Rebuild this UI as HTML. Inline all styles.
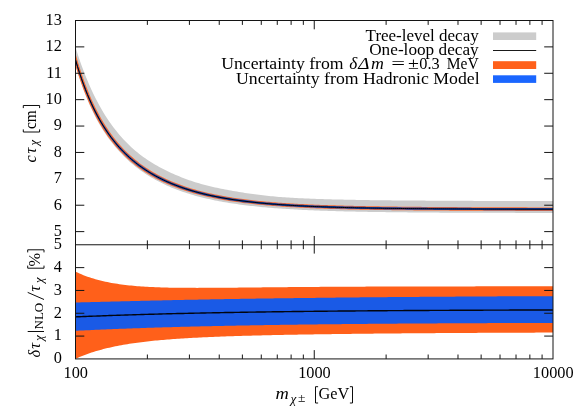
<!DOCTYPE html>
<html><head><meta charset="utf-8"><title>plot</title><style>html,body{margin:0;padding:0;background:#fff;overflow:hidden}svg{display:block;will-change:transform}</style></head><body>
<svg width="582" height="410" viewBox="0 0 582 410">
<rect width="582" height="410" fill="#fff"/>
<clipPath id="cu"><rect x="75.5" y="20.5" width="477.5" height="224.28"/></clipPath>
<clipPath id="cl"><rect x="75.5" y="244.78" width="477.5" height="114.14000000000001"/></clipPath>
<g clip-path="url(#cu)">
<path d="M71.50,33.29 L73.49,40.51 L75.49,47.24 L77.48,53.55 L79.48,59.49 L81.47,65.13 L83.46,70.50 L85.46,75.64 L87.45,80.54 L89.44,85.22 L91.44,89.68 L93.43,93.93 L95.43,97.98 L97.42,101.85 L99.41,105.54 L101.41,109.06 L103.40,112.43 L105.40,115.65 L107.39,118.73 L109.38,121.68 L111.38,124.51 L113.37,127.21 L115.36,129.80 L117.36,132.29 L119.35,134.67 L121.35,136.97 L123.34,139.17 L125.33,141.28 L127.33,143.31 L129.32,145.26 L131.31,147.13 L133.31,148.93 L135.30,150.65 L137.30,152.31 L139.29,153.91 L141.28,155.45 L143.28,156.93 L145.27,158.36 L147.27,159.73 L149.26,161.05 L151.25,162.32 L153.25,163.54 L155.24,164.72 L157.23,165.86 L159.23,166.96 L161.22,168.03 L163.22,169.07 L165.21,170.07 L167.20,171.05 L169.20,172.00 L171.19,172.93 L173.19,173.82 L175.18,174.69 L177.17,175.54 L179.17,176.36 L181.16,177.17 L183.15,177.95 L185.15,178.71 L187.14,179.45 L189.14,180.17 L191.13,180.86 L193.12,181.52 L195.12,182.16 L197.11,182.78 L199.10,183.37 L201.10,183.95 L203.09,184.51 L205.09,185.04 L207.08,185.56 L209.07,186.05 L211.07,186.53 L213.06,186.98 L215.06,187.42 L217.05,187.85 L219.04,188.26 L221.04,188.67 L223.03,189.06 L225.02,189.45 L227.02,189.83 L229.01,190.21 L231.01,190.57 L233.00,190.93 L234.99,191.27 L236.99,191.61 L238.98,191.94 L240.98,192.26 L242.97,192.57 L244.96,192.88 L246.96,193.17 L248.95,193.46 L250.94,193.75 L252.94,194.03 L254.93,194.30 L256.93,194.57 L258.92,194.82 L260.91,195.07 L262.91,195.31 L264.90,195.53 L266.90,195.75 L268.89,195.96 L270.88,196.16 L272.88,196.35 L274.87,196.54 L276.86,196.72 L278.86,196.89 L280.85,197.05 L282.85,197.21 L284.84,197.35 L286.83,197.49 L288.83,197.62 L290.82,197.75 L292.81,197.86 L294.81,197.98 L296.80,198.08 L298.80,198.18 L300.79,198.28 L302.78,198.37 L304.78,198.46 L306.77,198.54 L308.77,198.62 L310.76,198.70 L312.75,198.77 L314.75,198.84 L316.74,198.91 L318.73,198.98 L320.73,199.04 L322.72,199.10 L324.72,199.16 L326.71,199.22 L328.70,199.27 L330.70,199.32 L332.69,199.38 L334.69,199.43 L336.68,199.48 L338.67,199.53 L340.67,199.57 L342.66,199.62 L344.65,199.67 L346.65,199.71 L348.64,199.75 L350.64,199.79 L352.63,199.83 L354.62,199.87 L356.62,199.91 L358.61,199.94 L360.60,199.98 L362.60,200.01 L364.59,200.04 L366.59,200.07 L368.58,200.10 L370.57,200.13 L372.57,200.16 L374.56,200.19 L376.56,200.21 L378.55,200.24 L380.54,200.26 L382.54,200.28 L384.53,200.30 L386.52,200.33 L388.52,200.35 L390.51,200.37 L392.51,200.38 L394.50,200.40 L396.49,200.42 L398.49,200.44 L400.48,200.45 L402.48,200.47 L404.47,200.49 L406.46,200.50 L408.46,200.52 L410.45,200.53 L412.44,200.54 L414.44,200.56 L416.43,200.57 L418.43,200.58 L420.42,200.60 L422.41,200.61 L424.41,200.62 L426.40,200.64 L428.40,200.65 L430.39,200.66 L432.38,200.67 L434.38,200.68 L436.37,200.69 L438.36,200.70 L440.36,200.71 L442.35,200.73 L444.35,200.74 L446.34,200.75 L448.33,200.76 L450.33,200.77 L452.32,200.78 L454.31,200.79 L456.31,200.80 L458.30,200.80 L460.30,200.81 L462.29,200.82 L464.28,200.83 L466.28,200.84 L468.27,200.85 L470.27,200.86 L472.26,200.87 L474.25,200.88 L476.25,200.88 L478.24,200.89 L480.23,200.90 L482.23,200.91 L484.22,200.92 L486.22,200.92 L488.21,200.93 L490.20,200.94 L492.20,200.95 L494.19,200.95 L496.19,200.96 L498.18,200.97 L500.17,200.98 L502.17,200.98 L504.16,200.99 L506.15,201.00 L508.15,201.00 L510.14,201.01 L512.14,201.02 L514.13,201.02 L516.12,201.03 L518.12,201.03 L520.11,201.04 L522.10,201.05 L524.10,201.05 L526.09,201.06 L528.09,201.06 L530.08,201.07 L532.07,201.07 L534.07,201.08 L536.06,201.08 L538.06,201.09 L540.05,201.09 L542.04,201.10 L544.04,201.10 L546.03,201.11 L548.02,201.11 L550.02,201.11 L552.01,201.12 L554.01,201.12 L556.00,201.13 L556.00,212.93 L554.01,212.92 L552.01,212.92 L550.02,212.92 L548.02,212.92 L546.03,212.91 L544.04,212.91 L542.04,212.91 L540.05,212.91 L538.06,212.91 L536.06,212.90 L534.07,212.90 L532.07,212.90 L530.08,212.90 L528.09,212.89 L526.09,212.89 L524.10,212.89 L522.10,212.89 L520.11,212.88 L518.12,212.88 L516.12,212.88 L514.13,212.87 L512.14,212.87 L510.14,212.87 L508.15,212.86 L506.15,212.86 L504.16,212.86 L502.17,212.85 L500.17,212.85 L498.18,212.84 L496.19,212.84 L494.19,212.83 L492.20,212.83 L490.20,212.82 L488.21,212.82 L486.22,212.81 L484.22,212.81 L482.23,212.80 L480.23,212.80 L478.24,212.79 L476.25,212.78 L474.25,212.78 L472.26,212.77 L470.27,212.76 L468.27,212.76 L466.28,212.75 L464.28,212.74 L462.29,212.73 L460.30,212.72 L458.30,212.72 L456.31,212.71 L454.31,212.70 L452.32,212.69 L450.33,212.68 L448.33,212.67 L446.34,212.66 L444.35,212.65 L442.35,212.64 L440.36,212.63 L438.36,212.62 L436.37,212.60 L434.38,212.59 L432.38,212.58 L430.39,212.57 L428.40,212.55 L426.40,212.54 L424.41,212.52 L422.41,212.51 L420.42,212.49 L418.43,212.48 L416.43,212.46 L414.44,212.45 L412.44,212.43 L410.45,212.41 L408.46,212.39 L406.46,212.37 L404.47,212.36 L402.48,212.34 L400.48,212.31 L398.49,212.29 L396.49,212.27 L394.50,212.25 L392.51,212.23 L390.51,212.20 L388.52,212.18 L386.52,212.15 L384.53,212.12 L382.54,212.10 L380.54,212.07 L378.55,212.04 L376.56,212.01 L374.56,211.98 L372.57,211.95 L370.57,211.91 L368.58,211.88 L366.59,211.84 L364.59,211.81 L362.60,211.77 L360.60,211.73 L358.61,211.69 L356.62,211.65 L354.62,211.61 L352.63,211.57 L350.64,211.52 L348.64,211.48 L346.65,211.43 L344.65,211.38 L342.66,211.33 L340.67,211.27 L338.67,211.22 L336.68,211.16 L334.69,211.11 L332.69,211.05 L330.70,210.98 L328.70,210.92 L326.71,210.86 L324.72,210.79 L322.72,210.72 L320.73,210.65 L318.73,210.57 L316.74,210.49 L314.75,210.41 L312.75,210.33 L310.76,210.25 L308.77,210.16 L306.77,210.07 L304.78,209.98 L302.78,209.88 L300.79,209.78 L298.80,209.68 L296.80,209.57 L294.81,209.46 L292.81,209.35 L290.82,209.23 L288.83,209.11 L286.83,208.99 L284.84,208.86 L282.85,208.72 L280.85,208.59 L278.86,208.44 L276.86,208.30 L274.87,208.15 L272.88,207.99 L270.88,207.83 L268.89,207.66 L266.90,207.49 L264.90,207.31 L262.91,207.13 L260.91,206.94 L258.92,206.75 L256.93,206.54 L254.93,206.33 L252.94,206.12 L250.94,205.90 L248.95,205.67 L246.96,205.43 L244.96,205.19 L242.97,204.93 L240.98,204.67 L238.98,204.40 L236.99,204.12 L234.99,203.84 L233.00,203.54 L231.01,203.23 L229.01,202.92 L227.02,202.59 L225.02,202.25 L223.03,201.90 L221.04,201.54 L219.04,201.17 L217.05,200.79 L215.06,200.39 L213.06,199.98 L211.07,199.56 L209.07,199.12 L207.08,198.67 L205.09,198.20 L203.09,197.72 L201.10,197.22 L199.10,196.71 L197.11,196.18 L195.12,195.63 L193.12,195.06 L191.13,194.47 L189.14,193.87 L187.14,193.24 L185.15,192.59 L183.15,191.92 L181.16,191.23 L179.17,190.52 L177.17,189.78 L175.18,189.01 L173.19,188.22 L171.19,187.40 L169.20,186.56 L167.20,185.68 L165.21,184.77 L163.22,183.84 L161.22,182.87 L159.23,181.86 L157.23,180.82 L155.24,179.74 L153.25,178.62 L151.25,177.46 L149.26,176.26 L147.27,175.01 L145.27,173.72 L143.28,172.37 L141.28,170.98 L139.29,169.53 L137.30,168.03 L135.30,166.47 L133.31,164.84 L131.31,163.15 L129.32,161.39 L127.33,159.56 L125.33,157.65 L123.34,155.66 L121.35,153.58 L119.35,151.44 L117.36,149.26 L115.36,146.97 L113.37,144.58 L111.38,142.08 L109.38,139.45 L107.39,136.69 L105.40,133.80 L103.40,130.76 L101.41,127.56 L99.41,124.20 L97.42,120.65 L95.43,116.92 L93.43,112.99 L91.44,108.84 L89.44,104.45 L87.45,99.82 L85.46,94.91 L83.46,89.72 L81.47,84.23 L79.48,78.39 L77.48,72.21 L75.49,65.64 L73.49,58.57 L71.50,51.06Z" fill="#cccccc"/>
<path d="M71.50,38.45 L73.49,46.27 L75.49,53.62 L77.48,60.54 L79.48,67.06 L81.47,73.20 L83.46,78.99 L85.46,84.45 L87.45,89.62 L89.44,94.51 L91.44,99.13 L93.43,103.51 L95.43,107.67 L97.42,111.61 L99.41,115.35 L101.41,118.91 L103.40,122.30 L105.40,125.52 L107.39,128.59 L109.38,131.51 L111.38,134.30 L113.37,136.97 L115.36,139.52 L117.36,141.95 L119.35,144.28 L121.35,146.51 L123.34,148.64 L125.33,150.69 L127.33,152.65 L129.32,154.54 L131.31,156.34 L133.31,158.08 L135.30,159.75 L137.30,161.35 L139.29,162.89 L141.28,164.38 L143.28,165.81 L145.27,167.18 L147.27,168.51 L149.26,169.78 L151.25,171.01 L153.25,172.20 L155.24,173.35 L157.23,174.45 L159.23,175.52 L161.22,176.54 L163.22,177.54 L165.21,178.50 L167.20,179.42 L169.20,180.32 L171.19,181.18 L173.19,182.02 L175.18,182.82 L177.17,183.60 L179.17,184.36 L181.16,185.09 L183.15,185.79 L185.15,186.48 L187.14,187.14 L189.14,187.77 L191.13,188.39 L193.12,188.99 L195.12,189.57 L197.11,190.13 L199.10,190.67 L201.10,191.19 L203.09,191.70 L205.09,192.19 L207.08,192.67 L209.07,193.13 L211.07,193.57 L213.06,194.00 L215.06,194.42 L217.05,194.82 L219.04,195.22 L221.04,195.59 L223.03,195.96 L225.02,196.32 L227.02,196.66 L229.01,196.99 L231.01,197.32 L233.00,197.63 L234.99,197.93 L236.99,198.22 L238.98,198.51 L240.98,198.78 L242.97,199.05 L244.96,199.30 L246.96,199.55 L248.95,199.79 L250.94,200.03 L252.94,200.25 L254.93,200.47 L256.93,200.69 L258.92,200.89 L260.91,201.09 L262.91,201.28 L264.90,201.47 L266.90,201.65 L268.89,201.83 L270.88,202.00 L272.88,202.16 L274.87,202.32 L276.86,202.48 L278.86,202.63 L280.85,202.77 L282.85,202.91 L284.84,203.05 L286.83,203.18 L288.83,203.31 L290.82,203.43 L292.81,203.55 L294.81,203.67 L296.80,203.78 L298.80,203.89 L300.79,204.00 L302.78,204.10 L304.78,204.20 L306.77,204.29 L308.77,204.39 L310.76,204.48 L312.75,204.57 L314.75,204.65 L316.74,204.73 L318.73,204.81 L320.73,204.89 L322.72,204.97 L324.72,205.04 L326.71,205.11 L328.70,205.18 L330.70,205.24 L332.69,205.31 L334.69,205.37 L336.68,205.43 L338.67,205.49 L340.67,205.55 L342.66,205.60 L344.65,205.66 L346.65,205.71 L348.64,205.76 L350.64,205.81 L352.63,205.85 L354.62,205.90 L356.62,205.95 L358.61,205.99 L360.60,206.03 L362.60,206.07 L364.59,206.11 L366.59,206.15 L368.58,206.19 L370.57,206.22 L372.57,206.26 L374.56,206.29 L376.56,206.33 L378.55,206.36 L380.54,206.39 L382.54,206.42 L384.53,206.45 L386.52,206.48 L388.52,206.51 L390.51,206.54 L392.51,206.56 L394.50,206.59 L396.49,206.61 L398.49,206.64 L400.48,206.66 L402.48,206.68 L404.47,206.71 L406.46,206.73 L408.46,206.75 L410.45,206.77 L412.44,206.79 L414.44,206.81 L416.43,206.83 L418.43,206.85 L420.42,206.86 L422.41,206.88 L424.41,206.90 L426.40,206.91 L428.40,206.93 L430.39,206.95 L432.38,206.96 L434.38,206.98 L436.37,206.99 L438.36,207.00 L440.36,207.02 L442.35,207.03 L444.35,207.04 L446.34,207.06 L448.33,207.07 L450.33,207.08 L452.32,207.09 L454.31,207.10 L456.31,207.12 L458.30,207.13 L460.30,207.14 L462.29,207.15 L464.28,207.16 L466.28,207.17 L468.27,207.18 L470.27,207.19 L472.26,207.19 L474.25,207.20 L476.25,207.21 L478.24,207.22 L480.23,207.23 L482.23,207.24 L484.22,207.24 L486.22,207.25 L488.21,207.26 L490.20,207.27 L492.20,207.27 L494.19,207.28 L496.19,207.29 L498.18,207.29 L500.17,207.30 L502.17,207.31 L504.16,207.31 L506.15,207.32 L508.15,207.33 L510.14,207.33 L512.14,207.34 L514.13,207.34 L516.12,207.35 L518.12,207.35 L520.11,207.36 L522.10,207.36 L524.10,207.37 L526.09,207.37 L528.09,207.38 L530.08,207.38 L532.07,207.39 L534.07,207.39 L536.06,207.39 L538.06,207.40 L540.05,207.40 L542.04,207.41 L544.04,207.41 L546.03,207.41 L548.02,207.42 L550.02,207.42 L552.01,207.42 L554.01,207.43 L556.00,207.43 L556.00,210.95 L554.01,210.95 L552.01,210.95 L550.02,210.94 L548.02,210.94 L546.03,210.94 L544.04,210.93 L542.04,210.93 L540.05,210.93 L538.06,210.92 L536.06,210.92 L534.07,210.92 L532.07,210.91 L530.08,210.91 L528.09,210.90 L526.09,210.90 L524.10,210.90 L522.10,210.89 L520.11,210.89 L518.12,210.88 L516.12,210.88 L514.13,210.87 L512.14,210.87 L510.14,210.86 L508.15,210.86 L506.15,210.85 L504.16,210.85 L502.17,210.84 L500.17,210.84 L498.18,210.83 L496.19,210.82 L494.19,210.82 L492.20,210.81 L490.20,210.81 L488.21,210.80 L486.22,210.79 L484.22,210.78 L482.23,210.78 L480.23,210.77 L478.24,210.76 L476.25,210.76 L474.25,210.75 L472.26,210.74 L470.27,210.73 L468.27,210.72 L466.28,210.71 L464.28,210.70 L462.29,210.70 L460.30,210.69 L458.30,210.68 L456.31,210.67 L454.31,210.66 L452.32,210.65 L450.33,210.63 L448.33,210.62 L446.34,210.61 L444.35,210.60 L442.35,210.59 L440.36,210.58 L438.36,210.56 L436.37,210.55 L434.38,210.54 L432.38,210.52 L430.39,210.51 L428.40,210.49 L426.40,210.48 L424.41,210.46 L422.41,210.45 L420.42,210.43 L418.43,210.41 L416.43,210.40 L414.44,210.38 L412.44,210.36 L410.45,210.34 L408.46,210.32 L406.46,210.30 L404.47,210.28 L402.48,210.26 L400.48,210.24 L398.49,210.22 L396.49,210.19 L394.50,210.17 L392.51,210.15 L390.51,210.12 L388.52,210.09 L386.52,210.07 L384.53,210.04 L382.54,210.01 L380.54,209.98 L378.55,209.95 L376.56,209.92 L374.56,209.89 L372.57,209.86 L370.57,209.82 L368.58,209.79 L366.59,209.75 L364.59,209.72 L362.60,209.68 L360.60,209.64 L358.61,209.60 L356.62,209.56 L354.62,209.51 L352.63,209.47 L350.64,209.42 L348.64,209.38 L346.65,209.33 L344.65,209.28 L342.66,209.23 L340.67,209.17 L338.67,209.12 L336.68,209.06 L334.69,209.00 L332.69,208.94 L330.70,208.88 L328.70,208.82 L326.71,208.75 L324.72,208.68 L322.72,208.61 L320.73,208.54 L318.73,208.46 L316.74,208.39 L314.75,208.31 L312.75,208.23 L310.76,208.14 L308.77,208.05 L306.77,207.96 L304.78,207.87 L302.78,207.77 L300.79,207.67 L298.80,207.57 L296.80,207.47 L294.81,207.36 L292.81,207.25 L290.82,207.13 L288.83,207.01 L286.83,206.89 L284.84,206.76 L282.85,206.63 L280.85,206.49 L278.86,206.35 L276.86,206.20 L274.87,206.05 L272.88,205.90 L270.88,205.74 L268.89,205.58 L266.90,205.41 L264.90,205.23 L262.91,205.05 L260.91,204.86 L258.92,204.67 L256.93,204.47 L254.93,204.26 L252.94,204.05 L250.94,203.83 L248.95,203.60 L246.96,203.37 L244.96,203.13 L242.97,202.88 L240.98,202.62 L238.98,202.36 L236.99,202.08 L234.99,201.80 L233.00,201.50 L231.01,201.20 L229.01,200.89 L227.02,200.57 L225.02,200.24 L223.03,199.89 L221.04,199.54 L219.04,199.17 L217.05,198.79 L215.06,198.40 L213.06,198.00 L211.07,197.58 L209.07,197.15 L207.08,196.71 L205.09,196.25 L203.09,195.77 L201.10,195.28 L199.10,194.78 L197.11,194.26 L195.12,193.72 L193.12,193.16 L191.13,192.58 L189.14,191.99 L187.14,191.37 L185.15,190.74 L183.15,190.08 L181.16,189.40 L179.17,188.70 L177.17,187.97 L175.18,187.22 L173.19,186.45 L171.19,185.64 L169.20,184.81 L167.20,183.95 L165.21,183.07 L163.22,182.15 L161.22,181.20 L159.23,180.21 L157.23,179.19 L155.24,178.13 L153.25,177.04 L151.25,175.90 L149.26,174.73 L147.27,173.51 L145.27,172.24 L143.28,170.93 L141.28,169.57 L139.29,168.16 L137.30,166.69 L135.30,165.16 L133.31,163.57 L131.31,161.92 L129.32,160.21 L127.33,158.42 L125.33,156.56 L123.34,154.62 L121.35,152.59 L119.35,150.48 L117.36,148.28 L115.36,145.98 L113.37,143.57 L111.38,141.06 L109.38,138.43 L107.39,135.67 L105.40,132.78 L103.40,129.75 L101.41,126.56 L99.41,123.22 L97.42,119.71 L95.43,116.01 L93.43,112.12 L91.44,108.02 L89.44,103.69 L87.45,99.12 L85.46,94.30 L83.46,89.20 L81.47,83.81 L79.48,78.09 L77.48,72.03 L75.49,65.61 L73.49,58.79 L71.50,51.54Z" fill="#f96a2e"/>
<path d="M71.50,43.04 L73.49,50.61 L75.49,57.72 L77.48,64.42 L79.48,70.73 L81.47,76.69 L83.46,82.30 L85.46,87.61 L87.45,92.63 L89.44,97.38 L91.44,101.87 L93.43,106.14 L95.43,110.18 L97.42,114.02 L99.41,117.66 L101.41,121.13 L103.40,124.43 L105.40,127.58 L107.39,130.57 L109.38,133.43 L111.38,136.15 L113.37,138.76 L115.36,141.25 L117.36,143.63 L119.35,145.91 L121.35,148.09 L123.34,150.18 L125.33,152.19 L127.33,154.11 L129.32,155.96 L131.31,157.73 L133.31,159.43 L135.30,161.07 L137.30,162.64 L139.29,164.16 L141.28,165.62 L143.28,167.02 L145.27,168.37 L147.27,169.68 L149.26,170.93 L151.25,172.14 L153.25,173.31 L155.24,174.44 L157.23,175.53 L159.23,176.58 L161.22,177.59 L163.22,178.57 L165.21,179.52 L167.20,180.43 L169.20,181.31 L171.19,182.17 L173.19,182.99 L175.18,183.79 L177.17,184.56 L179.17,185.30 L181.16,186.02 L183.15,186.72 L185.15,187.40 L187.14,188.05 L189.14,188.68 L191.13,189.29 L193.12,189.88 L195.12,190.45 L197.11,191.01 L199.10,191.54 L201.10,192.06 L203.09,192.57 L205.09,193.05 L207.08,193.52 L209.07,193.98 L211.07,194.42 L213.06,194.85 L215.06,195.26 L217.05,195.66 L219.04,196.05 L221.04,196.42 L223.03,196.79 L225.02,197.14 L227.02,197.48 L229.01,197.81 L231.01,198.13 L233.00,198.44 L234.99,198.74 L236.99,199.03 L238.98,199.31 L240.98,199.58 L242.97,199.85 L244.96,200.10 L246.96,200.35 L248.95,200.59 L250.94,200.82 L252.94,201.05 L254.93,201.26 L256.93,201.47 L258.92,201.68 L260.91,201.88 L262.91,202.07 L264.90,202.25 L266.90,202.43 L268.89,202.61 L270.88,202.78 L272.88,202.94 L274.87,203.10 L276.86,203.25 L278.86,203.40 L280.85,203.54 L282.85,203.68 L284.84,203.82 L286.83,203.95 L288.83,204.07 L290.82,204.20 L292.81,204.32 L294.81,204.43 L296.80,204.54 L298.80,204.65 L300.79,204.76 L302.78,204.86 L304.78,204.96 L306.77,205.05 L308.77,205.14 L310.76,205.23 L312.75,205.32 L314.75,205.40 L316.74,205.48 L318.73,205.56 L320.73,205.64 L322.72,205.71 L324.72,205.79 L326.71,205.86 L328.70,205.92 L330.70,205.99 L332.69,206.05 L334.69,206.11 L336.68,206.17 L338.67,206.23 L340.67,206.29 L342.66,206.34 L344.65,206.39 L346.65,206.44 L348.64,206.49 L350.64,206.54 L352.63,206.59 L354.62,206.63 L356.62,206.68 L358.61,206.72 L360.60,206.76 L362.60,206.80 L364.59,206.84 L366.59,206.88 L368.58,206.91 L370.57,206.95 L372.57,206.98 L374.56,207.02 L376.56,207.05 L378.55,207.08 L380.54,207.11 L382.54,207.14 L384.53,207.17 L386.52,207.20 L388.52,207.23 L390.51,207.25 L392.51,207.28 L394.50,207.30 L396.49,207.33 L398.49,207.35 L400.48,207.37 L402.48,207.40 L404.47,207.42 L406.46,207.44 L408.46,207.46 L410.45,207.48 L412.44,207.50 L414.44,207.52 L416.43,207.53 L418.43,207.55 L420.42,207.57 L422.41,207.58 L424.41,207.60 L426.40,207.62 L428.40,207.63 L430.39,207.65 L432.38,207.66 L434.38,207.68 L436.37,207.69 L438.36,207.70 L440.36,207.72 L442.35,207.73 L444.35,207.74 L446.34,207.75 L448.33,207.76 L450.33,207.77 L452.32,207.79 L454.31,207.80 L456.31,207.81 L458.30,207.82 L460.30,207.83 L462.29,207.84 L464.28,207.85 L466.28,207.85 L468.27,207.86 L470.27,207.87 L472.26,207.88 L474.25,207.89 L476.25,207.90 L478.24,207.90 L480.23,207.91 L482.23,207.92 L484.22,207.93 L486.22,207.93 L488.21,207.94 L490.20,207.95 L492.20,207.95 L494.19,207.96 L496.19,207.96 L498.18,207.97 L500.17,207.98 L502.17,207.98 L504.16,207.99 L506.15,207.99 L508.15,208.00 L510.14,208.00 L512.14,208.01 L514.13,208.01 L516.12,208.02 L518.12,208.02 L520.11,208.03 L522.10,208.03 L524.10,208.04 L526.09,208.04 L528.09,208.05 L530.08,208.05 L532.07,208.06 L534.07,208.06 L536.06,208.06 L538.06,208.07 L540.05,208.07 L542.04,208.07 L544.04,208.08 L546.03,208.08 L548.02,208.08 L550.02,208.09 L552.01,208.09 L554.01,208.09 L556.00,208.10 L556.00,210.30 L554.01,210.30 L552.01,210.29 L550.02,210.29 L548.02,210.29 L546.03,210.28 L544.04,210.28 L542.04,210.28 L540.05,210.27 L538.06,210.27 L536.06,210.27 L534.07,210.26 L532.07,210.26 L530.08,210.25 L528.09,210.25 L526.09,210.25 L524.10,210.24 L522.10,210.24 L520.11,210.23 L518.12,210.23 L516.12,210.22 L514.13,210.22 L512.14,210.21 L510.14,210.21 L508.15,210.20 L506.15,210.20 L504.16,210.19 L502.17,210.19 L500.17,210.18 L498.18,210.17 L496.19,210.17 L494.19,210.16 L492.20,210.16 L490.20,210.15 L488.21,210.14 L486.22,210.14 L484.22,210.13 L482.23,210.12 L480.23,210.11 L478.24,210.11 L476.25,210.10 L474.25,210.09 L472.26,210.08 L470.27,210.07 L468.27,210.07 L466.28,210.06 L464.28,210.05 L462.29,210.04 L460.30,210.03 L458.30,210.02 L456.31,210.01 L454.31,210.00 L452.32,209.99 L450.33,209.98 L448.33,209.97 L446.34,209.95 L444.35,209.94 L442.35,209.93 L440.36,209.92 L438.36,209.90 L436.37,209.89 L434.38,209.88 L432.38,209.86 L430.39,209.85 L428.40,209.83 L426.40,209.82 L424.41,209.80 L422.41,209.79 L420.42,209.77 L418.43,209.75 L416.43,209.74 L414.44,209.72 L412.44,209.70 L410.45,209.68 L408.46,209.66 L406.46,209.64 L404.47,209.62 L402.48,209.60 L400.48,209.58 L398.49,209.55 L396.49,209.53 L394.50,209.51 L392.51,209.48 L390.51,209.46 L388.52,209.43 L386.52,209.40 L384.53,209.38 L382.54,209.35 L380.54,209.32 L378.55,209.29 L376.56,209.26 L374.56,209.22 L372.57,209.19 L370.57,209.16 L368.58,209.12 L366.59,209.08 L364.59,209.05 L362.60,209.01 L360.60,208.97 L358.61,208.93 L356.62,208.89 L354.62,208.84 L352.63,208.80 L350.64,208.75 L348.64,208.70 L346.65,208.66 L344.65,208.60 L342.66,208.55 L340.67,208.50 L338.67,208.44 L336.68,208.39 L334.69,208.33 L332.69,208.27 L330.70,208.20 L328.70,208.14 L326.71,208.07 L324.72,208.00 L322.72,207.93 L320.73,207.86 L318.73,207.78 L316.74,207.71 L314.75,207.63 L312.75,207.54 L310.76,207.46 L308.77,207.37 L306.77,207.28 L304.78,207.18 L302.78,207.09 L300.79,206.99 L298.80,206.88 L296.80,206.78 L294.81,206.67 L292.81,206.55 L290.82,206.43 L288.83,206.31 L286.83,206.19 L284.84,206.06 L282.85,205.93 L280.85,205.79 L278.86,205.65 L276.86,205.50 L274.87,205.35 L272.88,205.19 L270.88,205.03 L268.89,204.87 L266.90,204.69 L264.90,204.52 L262.91,204.33 L260.91,204.14 L258.92,203.95 L256.93,203.75 L254.93,203.54 L252.94,203.33 L250.94,203.10 L248.95,202.87 L246.96,202.64 L244.96,202.39 L242.97,202.14 L240.98,201.88 L238.98,201.61 L236.99,201.34 L234.99,201.05 L233.00,200.75 L231.01,200.45 L229.01,200.13 L227.02,199.81 L225.02,199.47 L223.03,199.12 L221.04,198.76 L219.04,198.39 L217.05,198.01 L215.06,197.62 L213.06,197.21 L211.07,196.79 L209.07,196.35 L207.08,195.90 L205.09,195.44 L203.09,194.96 L201.10,194.46 L199.10,193.95 L197.11,193.42 L195.12,192.87 L193.12,192.31 L191.13,191.72 L189.14,191.12 L187.14,190.50 L185.15,189.85 L183.15,189.19 L181.16,188.50 L179.17,187.79 L177.17,187.05 L175.18,186.29 L173.19,185.50 L171.19,184.69 L169.20,183.85 L167.20,182.98 L165.21,182.08 L163.22,181.14 L161.22,180.18 L159.23,179.17 L157.23,178.14 L155.24,177.07 L153.25,175.95 L151.25,174.80 L149.26,173.60 L147.27,172.36 L145.27,171.08 L143.28,169.74 L141.28,168.36 L139.29,166.92 L137.30,165.42 L135.30,163.87 L133.31,162.25 L131.31,160.57 L129.32,158.82 L127.33,157.00 L125.33,155.10 L123.34,153.12 L121.35,151.06 L119.35,148.90 L117.36,146.66 L115.36,144.31 L113.37,141.85 L111.38,139.28 L109.38,136.59 L107.39,133.77 L105.40,130.81 L103.40,127.71 L101.41,124.45 L99.41,121.03 L97.42,117.43 L95.43,113.64 L93.43,109.66 L91.44,105.45 L89.44,101.01 L87.45,96.33 L85.46,91.38 L83.46,86.14 L81.47,80.59 L79.48,74.72 L77.48,68.49 L75.49,61.88 L73.49,54.86 L71.50,47.40Z" fill="#1946b4"/>
<path d="M71.50,45.26 L73.49,52.77 L75.49,59.84 L77.48,66.49 L79.48,72.76 L81.47,78.67 L83.46,84.25 L85.46,89.52 L87.45,94.50 L89.44,99.22 L91.44,103.68 L93.43,107.91 L95.43,111.93 L97.42,115.74 L99.41,119.36 L101.41,122.81 L103.40,126.08 L105.40,129.21 L107.39,132.18 L109.38,135.02 L111.38,137.73 L113.37,140.31 L115.36,142.79 L117.36,145.15 L119.35,147.41 L121.35,149.58 L123.34,151.66 L125.33,153.65 L127.33,155.56 L129.32,157.40 L131.31,159.16 L133.31,160.85 L135.30,162.47 L137.30,164.04 L139.29,165.54 L141.28,166.99 L143.28,168.39 L145.27,169.73 L147.27,171.03 L149.26,172.27 L151.25,173.48 L153.25,174.64 L155.24,175.76 L157.23,176.84 L159.23,177.88 L161.22,178.89 L163.22,179.86 L165.21,180.80 L167.20,181.71 L169.20,182.58 L171.19,183.43 L173.19,184.25 L175.18,185.04 L177.17,185.81 L179.17,186.55 L181.16,187.27 L183.15,187.96 L185.15,188.63 L187.14,189.28 L189.14,189.91 L191.13,190.51 L193.12,191.10 L195.12,191.67 L197.11,192.22 L199.10,192.75 L201.10,193.27 L203.09,193.77 L205.09,194.25 L207.08,194.72 L209.07,195.17 L211.07,195.61 L213.06,196.03 L215.06,196.44 L217.05,196.84 L219.04,197.23 L221.04,197.60 L223.03,197.96 L225.02,198.31 L227.02,198.65 L229.01,198.98 L231.01,199.30 L233.00,199.60 L234.99,199.90 L236.99,200.19 L238.98,200.47 L240.98,200.74 L242.97,201.00 L244.96,201.26 L246.96,201.50 L248.95,201.74 L250.94,201.97 L252.94,202.19 L254.93,202.41 L256.93,202.62 L258.92,202.82 L260.91,203.02 L262.91,203.21 L264.90,203.39 L266.90,203.57 L268.89,203.75 L270.88,203.91 L272.88,204.08 L274.87,204.23 L276.86,204.38 L278.86,204.53 L280.85,204.68 L282.85,204.81 L284.84,204.95 L286.83,205.08 L288.83,205.20 L290.82,205.33 L292.81,205.44 L294.81,205.56 L296.80,205.67 L298.80,205.78 L300.79,205.88 L302.78,205.98 L304.78,206.08 L306.77,206.17 L308.77,206.27 L310.76,206.36 L312.75,206.44 L314.75,206.53 L316.74,206.61 L318.73,206.69 L320.73,206.76 L322.72,206.84 L324.72,206.91 L326.71,206.98 L328.70,207.04 L330.70,207.11 L332.69,207.17 L334.69,207.23 L336.68,207.29 L338.67,207.35 L340.67,207.41 L342.66,207.46 L344.65,207.51 L346.65,207.56 L348.64,207.61 L350.64,207.66 L352.63,207.71 L354.62,207.75 L356.62,207.80 L358.61,207.84 L360.60,207.88 L362.60,207.92 L364.59,207.96 L366.59,208.00 L368.58,208.03 L370.57,208.07 L372.57,208.10 L374.56,208.14 L376.56,208.17 L378.55,208.20 L380.54,208.23 L382.54,208.26 L384.53,208.29 L386.52,208.32 L388.52,208.35 L390.51,208.37 L392.51,208.40 L394.50,208.42 L396.49,208.45 L398.49,208.47 L400.48,208.49 L402.48,208.52 L404.47,208.54 L406.46,208.56 L408.46,208.58 L410.45,208.60 L412.44,208.62 L414.44,208.64 L416.43,208.66 L418.43,208.67 L420.42,208.69 L422.41,208.71 L424.41,208.72 L426.40,208.74 L428.40,208.75 L430.39,208.77 L432.38,208.78 L434.38,208.80 L436.37,208.81 L438.36,208.83 L440.36,208.84 L442.35,208.85 L444.35,208.86 L446.34,208.88 L448.33,208.89 L450.33,208.90 L452.32,208.91 L454.31,208.92 L456.31,208.93 L458.30,208.94 L460.30,208.95 L462.29,208.96 L464.28,208.97 L466.28,208.98 L468.27,208.99 L470.27,209.00 L472.26,209.01 L474.25,209.01 L476.25,209.02 L478.24,209.03 L480.23,209.04 L482.23,209.05 L484.22,209.05 L486.22,209.06 L488.21,209.07 L490.20,209.07 L492.20,209.08 L494.19,209.09 L496.19,209.09 L498.18,209.10 L500.17,209.11 L502.17,209.11 L504.16,209.12 L506.15,209.12 L508.15,209.13 L510.14,209.13 L512.14,209.14 L514.13,209.14 L516.12,209.15 L518.12,209.15 L520.11,209.16 L522.10,209.16 L524.10,209.17 L526.09,209.17 L528.09,209.18 L530.08,209.18 L532.07,209.18 L534.07,209.19 L536.06,209.19 L538.06,209.20 L540.05,209.20 L542.04,209.20 L544.04,209.21 L546.03,209.21 L548.02,209.21 L550.02,209.22 L552.01,209.22 L554.01,209.22 L556.00,209.23" fill="none" stroke="#000" stroke-width="1.0"/>
</g>
<g clip-path="url(#cl)">
<path d="M71.50,269.62 L73.49,270.66 L75.49,271.66 L77.48,272.60 L79.48,273.50 L81.47,274.35 L83.46,275.15 L85.46,275.92 L87.45,276.65 L89.44,277.34 L91.44,277.99 L93.43,278.61 L95.43,279.19 L97.42,279.75 L99.41,280.27 L101.41,280.77 L103.40,281.24 L105.40,281.69 L107.39,282.11 L109.38,282.50 L111.38,282.88 L113.37,283.23 L115.36,283.56 L117.36,283.87 L119.35,284.17 L121.35,284.45 L123.34,284.71 L125.33,284.95 L127.33,285.19 L129.32,285.40 L131.31,285.60 L133.31,285.79 L135.30,285.97 L137.30,286.14 L139.29,286.29 L141.28,286.44 L143.28,286.57 L145.27,286.70 L147.27,286.81 L149.26,286.92 L151.25,287.02 L153.25,287.11 L155.24,287.20 L157.23,287.28 L159.23,287.35 L161.22,287.42 L163.22,287.48 L165.21,287.53 L167.20,287.58 L169.20,287.63 L171.19,287.67 L173.19,287.70 L175.18,287.73 L177.17,287.76 L179.17,287.79 L181.16,287.81 L183.15,287.82 L185.15,287.84 L187.14,287.85 L189.14,287.86 L191.13,287.87 L193.12,287.87 L195.12,287.87 L197.11,287.88 L199.10,287.87 L201.10,287.87 L203.09,287.87 L205.09,287.86 L207.08,287.85 L209.07,287.84 L211.07,287.83 L213.06,287.82 L215.06,287.81 L217.05,287.80 L219.04,287.78 L221.04,287.77 L223.03,287.75 L225.02,287.73 L227.02,287.72 L229.01,287.70 L231.01,287.68 L233.00,287.66 L234.99,287.65 L236.99,287.63 L238.98,287.61 L240.98,287.59 L242.97,287.57 L244.96,287.55 L246.96,287.53 L248.95,287.51 L250.94,287.49 L252.94,287.47 L254.93,287.45 L256.93,287.43 L258.92,287.41 L260.91,287.39 L262.91,287.37 L264.90,287.35 L266.90,287.33 L268.89,287.31 L270.88,287.29 L272.88,287.27 L274.87,287.25 L276.86,287.23 L278.86,287.21 L280.85,287.19 L282.85,287.18 L284.84,287.16 L286.83,287.14 L288.83,287.12 L290.82,287.10 L292.81,287.09 L294.81,287.07 L296.80,287.05 L298.80,287.04 L300.79,287.02 L302.78,287.00 L304.78,286.99 L306.77,286.97 L308.77,286.96 L310.76,286.94 L312.75,286.93 L314.75,286.91 L316.74,286.90 L318.73,286.89 L320.73,286.87 L322.72,286.86 L324.72,286.85 L326.71,286.83 L328.70,286.82 L330.70,286.81 L332.69,286.80 L334.69,286.78 L336.68,286.77 L338.67,286.76 L340.67,286.75 L342.66,286.74 L344.65,286.73 L346.65,286.72 L348.64,286.71 L350.64,286.70 L352.63,286.69 L354.62,286.68 L356.62,286.67 L358.61,286.66 L360.60,286.65 L362.60,286.64 L364.59,286.63 L366.59,286.62 L368.58,286.62 L370.57,286.61 L372.57,286.60 L374.56,286.59 L376.56,286.58 L378.55,286.58 L380.54,286.57 L382.54,286.56 L384.53,286.56 L386.52,286.55 L388.52,286.54 L390.51,286.54 L392.51,286.53 L394.50,286.52 L396.49,286.52 L398.49,286.51 L400.48,286.51 L402.48,286.50 L404.47,286.50 L406.46,286.49 L408.46,286.49 L410.45,286.48 L412.44,286.48 L414.44,286.47 L416.43,286.47 L418.43,286.46 L420.42,286.46 L422.41,286.45 L424.41,286.45 L426.40,286.45 L428.40,286.44 L430.39,286.44 L432.38,286.44 L434.38,286.43 L436.37,286.43 L438.36,286.42 L440.36,286.42 L442.35,286.42 L444.35,286.41 L446.34,286.41 L448.33,286.41 L450.33,286.41 L452.32,286.40 L454.31,286.40 L456.31,286.40 L458.30,286.40 L460.30,286.39 L462.29,286.39 L464.28,286.39 L466.28,286.39 L468.27,286.38 L470.27,286.38 L472.26,286.38 L474.25,286.38 L476.25,286.37 L478.24,286.37 L480.23,286.37 L482.23,286.37 L484.22,286.37 L486.22,286.37 L488.21,286.36 L490.20,286.36 L492.20,286.36 L494.19,286.36 L496.19,286.36 L498.18,286.36 L500.17,286.35 L502.17,286.35 L504.16,286.35 L506.15,286.35 L508.15,286.35 L510.14,286.35 L512.14,286.35 L514.13,286.35 L516.12,286.34 L518.12,286.34 L520.11,286.34 L522.10,286.34 L524.10,286.34 L526.09,286.34 L528.09,286.34 L530.08,286.34 L532.07,286.34 L534.07,286.34 L536.06,286.33 L538.06,286.33 L540.05,286.33 L542.04,286.33 L544.04,286.33 L546.03,286.33 L548.02,286.33 L550.02,286.33 L552.01,286.33 L554.01,286.33 L556.00,286.33 L556.00,332.55 L554.01,332.56 L552.01,332.57 L550.02,332.57 L548.02,332.58 L546.03,332.59 L544.04,332.59 L542.04,332.60 L540.05,332.61 L538.06,332.61 L536.06,332.62 L534.07,332.63 L532.07,332.64 L530.08,332.64 L528.09,332.65 L526.09,332.66 L524.10,332.67 L522.10,332.67 L520.11,332.68 L518.12,332.69 L516.12,332.70 L514.13,332.71 L512.14,332.72 L510.14,332.72 L508.15,332.73 L506.15,332.74 L504.16,332.75 L502.17,332.76 L500.17,332.77 L498.18,332.78 L496.19,332.79 L494.19,332.79 L492.20,332.80 L490.20,332.81 L488.21,332.82 L486.22,332.83 L484.22,332.84 L482.23,332.85 L480.23,332.86 L478.24,332.87 L476.25,332.88 L474.25,332.89 L472.26,332.90 L470.27,332.91 L468.27,332.93 L466.28,332.94 L464.28,332.95 L462.29,332.96 L460.30,332.97 L458.30,332.98 L456.31,332.99 L454.31,333.01 L452.32,333.02 L450.33,333.03 L448.33,333.04 L446.34,333.05 L444.35,333.07 L442.35,333.08 L440.36,333.09 L438.36,333.10 L436.37,333.12 L434.38,333.13 L432.38,333.15 L430.39,333.16 L428.40,333.17 L426.40,333.19 L424.41,333.20 L422.41,333.22 L420.42,333.23 L418.43,333.24 L416.43,333.26 L414.44,333.27 L412.44,333.29 L410.45,333.31 L408.46,333.32 L406.46,333.34 L404.47,333.35 L402.48,333.37 L400.48,333.39 L398.49,333.40 L396.49,333.42 L394.50,333.44 L392.51,333.45 L390.51,333.47 L388.52,333.49 L386.52,333.51 L384.53,333.53 L382.54,333.54 L380.54,333.56 L378.55,333.58 L376.56,333.60 L374.56,333.62 L372.57,333.64 L370.57,333.66 L368.58,333.68 L366.59,333.70 L364.59,333.72 L362.60,333.74 L360.60,333.77 L358.61,333.79 L356.62,333.81 L354.62,333.83 L352.63,333.85 L350.64,333.88 L348.64,333.90 L346.65,333.92 L344.65,333.95 L342.66,333.97 L340.67,334.00 L338.67,334.02 L336.68,334.05 L334.69,334.07 L332.69,334.10 L330.70,334.13 L328.70,334.15 L326.71,334.18 L324.72,334.21 L322.72,334.24 L320.73,334.27 L318.73,334.29 L316.74,334.32 L314.75,334.35 L312.75,334.38 L310.76,334.41 L308.77,334.45 L306.77,334.48 L304.78,334.51 L302.78,334.54 L300.79,334.58 L298.80,334.61 L296.80,334.64 L294.81,334.68 L292.81,334.72 L290.82,334.75 L288.83,334.79 L286.83,334.83 L284.84,334.86 L282.85,334.90 L280.85,334.94 L278.86,334.98 L276.86,335.02 L274.87,335.07 L272.88,335.11 L270.88,335.15 L268.89,335.20 L266.90,335.24 L264.90,335.29 L262.91,335.33 L260.91,335.38 L258.92,335.43 L256.93,335.48 L254.93,335.53 L252.94,335.58 L250.94,335.63 L248.95,335.69 L246.96,335.74 L244.96,335.80 L242.97,335.86 L240.98,335.91 L238.98,335.97 L236.99,336.03 L234.99,336.10 L233.00,336.16 L231.01,336.23 L229.01,336.29 L227.02,336.36 L225.02,336.43 L223.03,336.50 L221.04,336.58 L219.04,336.65 L217.05,336.73 L215.06,336.81 L213.06,336.89 L211.07,336.98 L209.07,337.06 L207.08,337.15 L205.09,337.24 L203.09,337.33 L201.10,337.43 L199.10,337.53 L197.11,337.63 L195.12,337.73 L193.12,337.84 L191.13,337.95 L189.14,338.06 L187.14,338.17 L185.15,338.29 L183.15,338.42 L181.16,338.54 L179.17,338.68 L177.17,338.81 L175.18,338.95 L173.19,339.09 L171.19,339.24 L169.20,339.39 L167.20,339.55 L165.21,339.72 L163.22,339.88 L161.22,340.06 L159.23,340.24 L157.23,340.43 L155.24,340.62 L153.25,340.82 L151.25,341.02 L149.26,341.24 L147.27,341.46 L145.27,341.69 L143.28,341.93 L141.28,342.17 L139.29,342.43 L137.30,342.69 L135.30,342.97 L133.31,343.25 L131.31,343.54 L129.32,343.85 L127.33,344.17 L125.33,344.50 L123.34,344.84 L121.35,345.20 L119.35,345.57 L117.36,345.95 L115.36,346.35 L113.37,346.77 L111.38,347.20 L109.38,347.65 L107.39,348.12 L105.40,348.60 L103.40,349.11 L101.41,349.64 L99.41,350.19 L97.42,350.76 L95.43,351.35 L93.43,351.97 L91.44,352.62 L89.44,353.29 L87.45,353.99 L85.46,354.72 L83.46,355.48 L81.47,356.27 L79.48,357.10 L77.48,357.96 L75.49,358.86 L73.49,359.80 L71.50,360.78Z" fill="#ff601a"/>
<path d="M71.50,302.59 L73.49,302.55 L75.49,302.50 L77.48,302.45 L79.48,302.41 L81.47,302.36 L83.46,302.31 L85.46,302.26 L87.45,302.21 L89.44,302.16 L91.44,302.11 L93.43,302.06 L95.43,302.01 L97.42,301.96 L99.41,301.91 L101.41,301.86 L103.40,301.81 L105.40,301.76 L107.39,301.71 L109.38,301.65 L111.38,301.60 L113.37,301.55 L115.36,301.50 L117.36,301.45 L119.35,301.40 L121.35,301.35 L123.34,301.30 L125.33,301.25 L127.33,301.20 L129.32,301.15 L131.31,301.10 L133.31,301.05 L135.30,301.00 L137.30,300.95 L139.29,300.91 L141.28,300.86 L143.28,300.81 L145.27,300.76 L147.27,300.71 L149.26,300.67 L151.25,300.62 L153.25,300.57 L155.24,300.53 L157.23,300.48 L159.23,300.43 L161.22,300.39 L163.22,300.34 L165.21,300.30 L167.20,300.26 L169.20,300.21 L171.19,300.17 L173.19,300.12 L175.18,300.08 L177.17,300.04 L179.17,300.00 L181.16,299.95 L183.15,299.91 L185.15,299.87 L187.14,299.83 L189.14,299.79 L191.13,299.75 L193.12,299.71 L195.12,299.67 L197.11,299.63 L199.10,299.59 L201.10,299.55 L203.09,299.52 L205.09,299.48 L207.08,299.44 L209.07,299.40 L211.07,299.37 L213.06,299.33 L215.06,299.29 L217.05,299.26 L219.04,299.22 L221.04,299.19 L223.03,299.15 L225.02,299.12 L227.02,299.09 L229.01,299.05 L231.01,299.02 L233.00,298.99 L234.99,298.95 L236.99,298.92 L238.98,298.89 L240.98,298.86 L242.97,298.83 L244.96,298.80 L246.96,298.77 L248.95,298.74 L250.94,298.71 L252.94,298.68 L254.93,298.65 L256.93,298.62 L258.92,298.59 L260.91,298.56 L262.91,298.53 L264.90,298.51 L266.90,298.48 L268.89,298.45 L270.88,298.42 L272.88,298.40 L274.87,298.37 L276.86,298.35 L278.86,298.32 L280.85,298.29 L282.85,298.27 L284.84,298.24 L286.83,298.22 L288.83,298.20 L290.82,298.17 L292.81,298.15 L294.81,298.12 L296.80,298.10 L298.80,298.08 L300.79,298.05 L302.78,298.03 L304.78,298.00 L306.77,297.98 L308.77,297.95 L310.76,297.93 L312.75,297.90 L314.75,297.88 L316.74,297.85 L318.73,297.83 L320.73,297.81 L322.72,297.78 L324.72,297.76 L326.71,297.74 L328.70,297.71 L330.70,297.69 L332.69,297.67 L334.69,297.64 L336.68,297.62 L338.67,297.60 L340.67,297.58 L342.66,297.56 L344.65,297.54 L346.65,297.52 L348.64,297.49 L350.64,297.47 L352.63,297.45 L354.62,297.43 L356.62,297.41 L358.61,297.39 L360.60,297.37 L362.60,297.35 L364.59,297.34 L366.59,297.32 L368.58,297.30 L370.57,297.28 L372.57,297.26 L374.56,297.24 L376.56,297.22 L378.55,297.20 L380.54,297.19 L382.54,297.17 L384.53,297.15 L386.52,297.13 L388.52,297.12 L390.51,297.10 L392.51,297.08 L394.50,297.07 L396.49,297.05 L398.49,297.03 L400.48,297.02 L402.48,297.00 L404.47,296.98 L406.46,296.97 L408.46,296.95 L410.45,296.94 L412.44,296.92 L414.44,296.91 L416.43,296.89 L418.43,296.88 L420.42,296.86 L422.41,296.85 L424.41,296.83 L426.40,296.82 L428.40,296.80 L430.39,296.79 L432.38,296.77 L434.38,296.76 L436.37,296.75 L438.36,296.73 L440.36,296.72 L442.35,296.71 L444.35,296.69 L446.34,296.68 L448.33,296.67 L450.33,296.65 L452.32,296.64 L454.31,296.63 L456.31,296.61 L458.30,296.60 L460.30,296.59 L462.29,296.58 L464.28,296.56 L466.28,296.55 L468.27,296.54 L470.27,296.53 L472.26,296.52 L474.25,296.50 L476.25,296.49 L478.24,296.48 L480.23,296.47 L482.23,296.46 L484.22,296.45 L486.22,296.43 L488.21,296.42 L490.20,296.41 L492.20,296.40 L494.19,296.39 L496.19,296.38 L498.18,296.37 L500.17,296.36 L502.17,296.35 L504.16,296.34 L506.15,296.34 L508.15,296.33 L510.14,296.32 L512.14,296.32 L514.13,296.31 L516.12,296.30 L518.12,296.30 L520.11,296.29 L522.10,296.28 L524.10,296.28 L526.09,296.27 L528.09,296.27 L530.08,296.26 L532.07,296.25 L534.07,296.25 L536.06,296.24 L538.06,296.24 L540.05,296.23 L542.04,296.23 L544.04,296.22 L546.03,296.21 L548.02,296.21 L550.02,296.20 L552.01,296.20 L554.01,296.19 L556.00,296.19 L556.00,322.88 L554.01,322.88 L552.01,322.89 L550.02,322.90 L548.02,322.90 L546.03,322.91 L544.04,322.91 L542.04,322.92 L540.05,322.93 L538.06,322.93 L536.06,322.94 L534.07,322.95 L532.07,322.95 L530.08,322.96 L528.09,322.97 L526.09,322.97 L524.10,322.98 L522.10,322.99 L520.11,322.99 L518.12,323.00 L516.12,323.01 L514.13,323.01 L512.14,323.02 L510.14,323.03 L508.15,323.04 L506.15,323.04 L504.16,323.05 L502.17,323.06 L500.17,323.07 L498.18,323.08 L496.19,323.08 L494.19,323.09 L492.20,323.10 L490.20,323.11 L488.21,323.12 L486.22,323.13 L484.22,323.13 L482.23,323.14 L480.23,323.15 L478.24,323.16 L476.25,323.17 L474.25,323.18 L472.26,323.19 L470.27,323.20 L468.27,323.21 L466.28,323.22 L464.28,323.23 L462.29,323.24 L460.30,323.25 L458.30,323.26 L456.31,323.27 L454.31,323.28 L452.32,323.29 L450.33,323.30 L448.33,323.31 L446.34,323.32 L444.35,323.33 L442.35,323.34 L440.36,323.35 L438.36,323.36 L436.37,323.38 L434.38,323.39 L432.38,323.40 L430.39,323.41 L428.40,323.42 L426.40,323.44 L424.41,323.45 L422.41,323.46 L420.42,323.47 L418.43,323.49 L416.43,323.50 L414.44,323.51 L412.44,323.53 L410.45,323.54 L408.46,323.55 L406.46,323.57 L404.47,323.58 L402.48,323.59 L400.48,323.61 L398.49,323.62 L396.49,323.64 L394.50,323.65 L392.51,323.67 L390.51,323.68 L388.52,323.70 L386.52,323.71 L384.53,323.73 L382.54,323.74 L380.54,323.76 L378.55,323.78 L376.56,323.79 L374.56,323.81 L372.57,323.83 L370.57,323.84 L368.58,323.86 L366.59,323.88 L364.59,323.90 L362.60,323.91 L360.60,323.93 L358.61,323.95 L356.62,323.97 L354.62,323.99 L352.63,324.01 L350.64,324.03 L348.64,324.05 L346.65,324.07 L344.65,324.09 L342.66,324.11 L340.67,324.13 L338.67,324.15 L336.68,324.17 L334.69,324.19 L332.69,324.21 L330.70,324.23 L328.70,324.25 L326.71,324.28 L324.72,324.30 L322.72,324.32 L320.73,324.34 L318.73,324.37 L316.74,324.39 L314.75,324.41 L312.75,324.44 L310.76,324.46 L308.77,324.49 L306.77,324.51 L304.78,324.54 L302.78,324.56 L300.79,324.59 L298.80,324.62 L296.80,324.64 L294.81,324.67 L292.81,324.70 L290.82,324.72 L288.83,324.75 L286.83,324.78 L284.84,324.81 L282.85,324.84 L280.85,324.87 L278.86,324.90 L276.86,324.92 L274.87,324.96 L272.88,324.99 L270.88,325.02 L268.89,325.05 L266.90,325.08 L264.90,325.11 L262.91,325.14 L260.91,325.18 L258.92,325.21 L256.93,325.24 L254.93,325.28 L252.94,325.31 L250.94,325.35 L248.95,325.38 L246.96,325.42 L244.96,325.45 L242.97,325.49 L240.98,325.53 L238.98,325.56 L236.99,325.60 L234.99,325.64 L233.00,325.68 L231.01,325.72 L229.01,325.76 L227.02,325.80 L225.02,325.84 L223.03,325.88 L221.04,325.92 L219.04,325.96 L217.05,326.01 L215.06,326.05 L213.06,326.09 L211.07,326.14 L209.07,326.18 L207.08,326.23 L205.09,326.27 L203.09,326.32 L201.10,326.37 L199.10,326.42 L197.11,326.46 L195.12,326.51 L193.12,326.56 L191.13,326.61 L189.14,326.66 L187.14,326.71 L185.15,326.76 L183.15,326.82 L181.16,326.87 L179.17,326.92 L177.17,326.98 L175.18,327.03 L173.19,327.09 L171.19,327.14 L169.20,327.20 L167.20,327.26 L165.21,327.32 L163.22,327.37 L161.22,327.43 L159.23,327.49 L157.23,327.56 L155.24,327.62 L153.25,327.68 L151.25,327.74 L149.26,327.81 L147.27,327.87 L145.27,327.94 L143.28,328.00 L141.28,328.07 L139.29,328.14 L137.30,328.21 L135.30,328.28 L133.31,328.35 L131.31,328.42 L129.32,328.49 L127.33,328.56 L125.33,328.64 L123.34,328.71 L121.35,328.79 L119.35,328.86 L117.36,328.94 L115.36,329.02 L113.37,329.10 L111.38,329.18 L109.38,329.26 L107.39,329.34 L105.40,329.43 L103.40,329.51 L101.41,329.60 L99.41,329.68 L97.42,329.77 L95.43,329.86 L93.43,329.95 L91.44,330.04 L89.44,330.13 L87.45,330.22 L85.46,330.31 L83.46,330.41 L81.47,330.51 L79.48,330.60 L77.48,330.70 L75.49,330.80 L73.49,330.90 L71.50,331.00Z" fill="#1a5ae6"/>
<path d="M71.50,317.08 L73.49,316.99 L75.49,316.90 L77.48,316.81 L79.48,316.73 L81.47,316.64 L83.46,316.56 L85.46,316.48 L87.45,316.40 L89.44,316.32 L91.44,316.24 L93.43,316.16 L95.43,316.08 L97.42,316.00 L99.41,315.93 L101.41,315.85 L103.40,315.78 L105.40,315.71 L107.39,315.63 L109.38,315.56 L111.38,315.49 L113.37,315.42 L115.36,315.35 L117.36,315.28 L119.35,315.22 L121.35,315.15 L123.34,315.08 L125.33,315.02 L127.33,314.96 L129.32,314.89 L131.31,314.83 L133.31,314.77 L135.30,314.71 L137.30,314.64 L139.29,314.58 L141.28,314.53 L143.28,314.47 L145.27,314.41 L147.27,314.35 L149.26,314.30 L151.25,314.24 L153.25,314.18 L155.24,314.13 L157.23,314.08 L159.23,314.02 L161.22,313.97 L163.22,313.92 L165.21,313.87 L167.20,313.81 L169.20,313.76 L171.19,313.71 L173.19,313.67 L175.18,313.62 L177.17,313.57 L179.17,313.52 L181.16,313.47 L183.15,313.43 L185.15,313.38 L187.14,313.34 L189.14,313.29 L191.13,313.25 L193.12,313.20 L195.12,313.16 L197.11,313.12 L199.10,313.08 L201.10,313.03 L203.09,312.99 L205.09,312.95 L207.08,312.91 L209.07,312.87 L211.07,312.83 L213.06,312.79 L215.06,312.76 L217.05,312.72 L219.04,312.68 L221.04,312.64 L223.03,312.61 L225.02,312.57 L227.02,312.53 L229.01,312.50 L231.01,312.46 L233.00,312.43 L234.99,312.40 L236.99,312.36 L238.98,312.33 L240.98,312.30 L242.97,312.26 L244.96,312.23 L246.96,312.20 L248.95,312.17 L250.94,312.14 L252.94,312.11 L254.93,312.08 L256.93,312.05 L258.92,312.02 L260.91,311.99 L262.91,311.96 L264.90,311.93 L266.90,311.90 L268.89,311.87 L270.88,311.84 L272.88,311.82 L274.87,311.79 L276.86,311.76 L278.86,311.74 L280.85,311.71 L282.85,311.69 L284.84,311.66 L286.83,311.63 L288.83,311.61 L290.82,311.59 L292.81,311.56 L294.81,311.54 L296.80,311.51 L298.80,311.49 L300.79,311.47 L302.78,311.44 L304.78,311.42 L306.77,311.40 L308.77,311.38 L310.76,311.35 L312.75,311.33 L314.75,311.31 L316.74,311.29 L318.73,311.27 L320.73,311.25 L322.72,311.23 L324.72,311.21 L326.71,311.19 L328.70,311.17 L330.70,311.15 L332.69,311.13 L334.69,311.11 L336.68,311.09 L338.67,311.07 L340.67,311.06 L342.66,311.04 L344.65,311.02 L346.65,311.00 L348.64,310.98 L350.64,310.97 L352.63,310.95 L354.62,310.93 L356.62,310.92 L358.61,310.90 L360.60,310.88 L362.60,310.87 L364.59,310.85 L366.59,310.84 L368.58,310.82 L370.57,310.80 L372.57,310.79 L374.56,310.77 L376.56,310.76 L378.55,310.74 L380.54,310.73 L382.54,310.72 L384.53,310.70 L386.52,310.69 L388.52,310.67 L390.51,310.66 L392.51,310.65 L394.50,310.63 L396.49,310.62 L398.49,310.61 L400.48,310.59 L402.48,310.58 L404.47,310.57 L406.46,310.56 L408.46,310.54 L410.45,310.53 L412.44,310.52 L414.44,310.51 L416.43,310.50 L418.43,310.48 L420.42,310.47 L422.41,310.46 L424.41,310.45 L426.40,310.44 L428.40,310.43 L430.39,310.42 L432.38,310.41 L434.38,310.40 L436.37,310.39 L438.36,310.38 L440.36,310.37 L442.35,310.36 L444.35,310.35 L446.34,310.34 L448.33,310.33 L450.33,310.32 L452.32,310.31 L454.31,310.30 L456.31,310.29 L458.30,310.28 L460.30,310.27 L462.29,310.26 L464.28,310.25 L466.28,310.24 L468.27,310.23 L470.27,310.23 L472.26,310.22 L474.25,310.21 L476.25,310.20 L478.24,310.19 L480.23,310.18 L482.23,310.18 L484.22,310.17 L486.22,310.16 L488.21,310.15 L490.20,310.15 L492.20,310.14 L494.19,310.13 L496.19,310.12 L498.18,310.12 L500.17,310.11 L502.17,310.10 L504.16,310.09 L506.15,310.09 L508.15,310.08 L510.14,310.07 L512.14,310.07 L514.13,310.06 L516.12,310.05 L518.12,310.05 L520.11,310.04 L522.10,310.03 L524.10,310.03 L526.09,310.02 L528.09,310.02 L530.08,310.01 L532.07,310.00 L534.07,310.00 L536.06,309.99 L538.06,309.99 L540.05,309.98 L542.04,309.98 L544.04,309.97 L546.03,309.96 L548.02,309.96 L550.02,309.95 L552.01,309.95 L554.01,309.94 L556.00,309.94" fill="none" stroke="#01040f" stroke-width="1.4"/>
</g>
<g stroke="#141414" stroke-width="1" fill="none">
<rect x="75.5" y="20.5" width="477.5" height="338.42"/>
<path d="M75.5,244.78H553.0"/>
<path d="M75.5,231.62h8.8M553.0,231.62h-8.8"/>
<path d="M75.5,205.23h8.8M553.0,205.23h-8.8"/>
<path d="M75.5,178.84h8.8M553.0,178.84h-8.8"/>
<path d="M75.5,152.45h8.8M553.0,152.45h-8.8"/>
<path d="M75.5,126.06h8.8M553.0,126.06h-8.8"/>
<path d="M75.5,99.67h8.8M553.0,99.67h-8.8"/>
<path d="M75.5,73.28h8.8M553.0,73.28h-8.8"/>
<path d="M75.5,46.89h8.8M553.0,46.89h-8.8"/>
<path d="M75.5,336.09h8.8M553.0,336.09h-8.8"/>
<path d="M75.5,313.26h8.8M553.0,313.26h-8.8"/>
<path d="M75.5,290.44h8.8M553.0,290.44h-8.8"/>
<path d="M75.5,267.61h8.8M553.0,267.61h-8.8"/>
<path d="M147.37,20.5v4.4M147.37,240.38v8.8M147.37,358.92v-4.4"/>
<path d="M189.41,20.5v4.4M189.41,240.38v8.8M189.41,358.92v-4.4"/>
<path d="M219.24,20.5v4.4M219.24,240.38v8.8M219.24,358.92v-4.4"/>
<path d="M242.38,20.5v4.4M242.38,240.38v8.8M242.38,358.92v-4.4"/>
<path d="M261.28,20.5v4.4M261.28,240.38v8.8M261.28,358.92v-4.4"/>
<path d="M277.27,20.5v4.4M277.27,240.38v8.8M277.27,358.92v-4.4"/>
<path d="M291.11,20.5v4.4M291.11,240.38v8.8M291.11,358.92v-4.4"/>
<path d="M303.33,20.5v4.4M303.33,240.38v8.8M303.33,358.92v-4.4"/>
<path d="M386.12,20.5v4.4M386.12,240.38v8.8M386.12,358.92v-4.4"/>
<path d="M428.16,20.5v4.4M428.16,240.38v8.8M428.16,358.92v-4.4"/>
<path d="M457.99,20.5v4.4M457.99,240.38v8.8M457.99,358.92v-4.4"/>
<path d="M481.13,20.5v4.4M481.13,240.38v8.8M481.13,358.92v-4.4"/>
<path d="M500.03,20.5v4.4M500.03,240.38v8.8M500.03,358.92v-4.4"/>
<path d="M516.02,20.5v4.4M516.02,240.38v8.8M516.02,358.92v-4.4"/>
<path d="M529.86,20.5v4.4M529.86,240.38v8.8M529.86,358.92v-4.4"/>
<path d="M542.08,20.5v4.4M542.08,240.38v8.8M542.08,358.92v-4.4"/>
<path d="M314.25,20.5v8.8M314.25,235.98v17.6M314.25,358.92v-8.8"/>
</g>
<rect x="493" y="32.4" width="43.200000000000045" height="7.6" fill="#cccccc"/>
<path d="M493,50.5H536.2" stroke="#000" stroke-width="0.9"/>
<rect x="493" y="61.2" width="43.200000000000045" height="7.8" fill="#ff601a"/>
<rect x="493" y="75.3" width="43.200000000000045" height="7.6" fill="#1a66ff"/>
<g font-family="Liberation Serif, serif" font-size="16.3" fill="#000">
<text x="61.90" y="236.02" text-anchor="end">5</text>
<text x="61.90" y="209.63" text-anchor="end">6</text>
<text x="61.90" y="183.24" text-anchor="end">7</text>
<text x="61.90" y="156.85" text-anchor="end">8</text>
<text x="61.90" y="130.46" text-anchor="end">9</text>
<text x="61.90" y="104.07" text-anchor="end">10</text>
<text x="61.90" y="77.68" text-anchor="end">11</text>
<text x="61.90" y="51.29" text-anchor="end">12</text>
<text x="61.90" y="24.90" text-anchor="end">13</text>
<text x="61.90" y="363.32" text-anchor="end">0</text>
<text x="61.90" y="340.49" text-anchor="end">1</text>
<text x="61.90" y="317.66" text-anchor="end">2</text>
<text x="61.90" y="294.84" text-anchor="end">3</text>
<text x="61.90" y="272.01" text-anchor="end">4</text>
<text x="61.90" y="249.18" text-anchor="end">5</text>
<text x="75.70" y="377.70" text-anchor="middle">100</text>
<text x="314.45" y="377.70" text-anchor="middle">1000</text>
<text x="553.20" y="377.70" text-anchor="middle">10000</text>
<text x="478.7" y="40.5" text-anchor="end" textLength="113.1" lengthAdjust="spacingAndGlyphs">Tree-level decay</text>
<text x="478.7" y="54.9" text-anchor="end" textLength="109.5" lengthAdjust="spacingAndGlyphs">One-loop decay</text>
<text x="221.20" y="69.10" textLength="122.4" lengthAdjust="spacingAndGlyphs">Uncertainty from</text>
<text x="349.30" y="69.10" font-style="italic" textLength="8.0" lengthAdjust="spacingAndGlyphs">δ</text>
<text x="358.30" y="69.10" font-style="italic" textLength="11.2" lengthAdjust="spacingAndGlyphs">Δ</text>
<text x="371.00" y="69.10" font-style="italic" textLength="12.9" lengthAdjust="spacingAndGlyphs">m</text>
<text x="391.30" y="69.10" textLength="13.8" lengthAdjust="spacingAndGlyphs">=</text>
<text x="408.00" y="69.10" textLength="10.9" lengthAdjust="spacingAndGlyphs">±</text>
<text x="419.30" y="69.10">0.3</text>
<text x="446.80" y="69.10" textLength="31.9" lengthAdjust="spacingAndGlyphs">MeV</text>
<text x="479.6" y="83.7" text-anchor="end" textLength="243.6" lengthAdjust="spacingAndGlyphs">Uncertainty from Hadronic Model</text>
<text x="275.50" y="399.00" font-size="17.3" font-style="italic" textLength="13.3" lengthAdjust="spacingAndGlyphs">m</text>
<text x="290.40" y="402.90" font-size="13.2" font-style="italic">χ</text>
<text x="297.90" y="402.40" font-size="13.5">±</text>
<path d="M318.10,386.70H315.50V403.00H318.10" fill="none" stroke="#000" stroke-width="0.95"/>
<text x="318.60" y="399.00">GeV</text>
<path d="M349.90,386.70H352.50V403.00H349.90" fill="none" stroke="#000" stroke-width="0.95"/>
<g transform="translate(35.6,162.4) rotate(-90)">
<text x="0.00" y="0.00" font-style="italic">c</text>
<text x="8.80" y="0.00" font-style="italic">τ</text>
<text x="17.00" y="2.60" font-size="12.5" font-style="italic">χ</text>
<path d="M33.00,-12.30H30.40V4.00H33.00" fill="none" stroke="#000" stroke-width="0.95"/>
<text x="33.40" y="0.00" textLength="18.8" lengthAdjust="spacingAndGlyphs">cm</text>
<path d="M54.30,-12.30H56.90V4.00H54.30" fill="none" stroke="#000" stroke-width="0.95"/>
</g>
<g transform="translate(40.0,357.7) rotate(-90)">
<text x="0.30" y="0.00" font-style="italic">δ</text>
<text x="9.00" y="0.00" font-style="italic">τ</text>
<text x="17.00" y="2.60" font-size="12.5" font-style="italic">χ</text>
<path d="M26.2,-12.3V4.0M58.2,4.0L65.3,-12.3" stroke="#000" stroke-width="0.95" fill="none"/>
<text x="28.20" y="3.40" font-size="12.9" textLength="26.8" lengthAdjust="spacingAndGlyphs">NLO</text>
<text x="66.30" y="0.00" font-style="italic">τ</text>
<text x="74.70" y="2.60" font-size="12.5" font-style="italic">χ</text>
<path d="M92.10,-12.30H89.50V4.00H92.10" fill="none" stroke="#000" stroke-width="0.95"/>
<text x="91.20" y="0.00">%</text>
<path d="M105.30,-12.30H107.90V4.00H105.30" fill="none" stroke="#000" stroke-width="0.95"/>
</g>
</g>
</svg>
</body></html>
